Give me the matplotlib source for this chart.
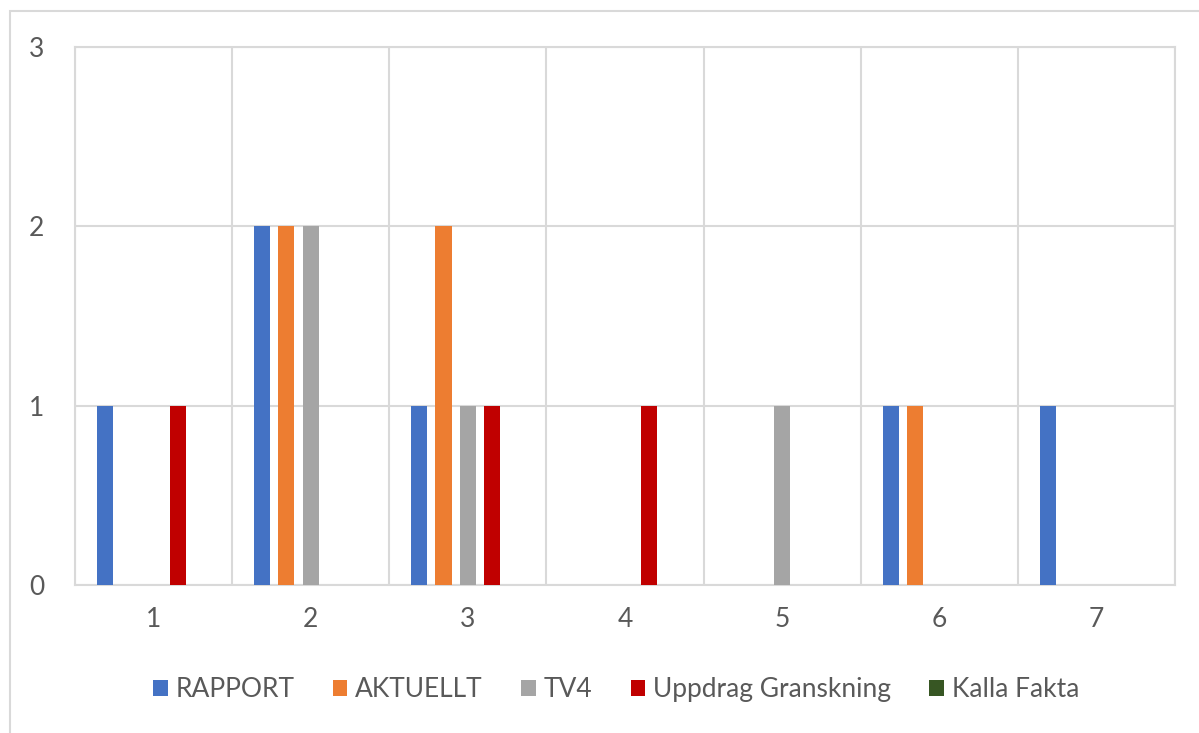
import numpy as np
import matplotlib.pyplot as plt
from matplotlib.patches import Rectangle

categories = ["1", "2", "3", "4", "5", "6", "7"]
series_names = ["RAPPORT", "AKTUELLT", "TV4", "Uppdrag Granskning", "Kalla Fakta"]
rapport = [1, 2, 1, 0, 0, 1, 1]
aktuellt = [0, 2, 2, 0, 0, 1, 0]
tv4 = [0, 2, 1, 0, 1, 0, 0]
uppdrag = [1, 0, 1, 1, 0, 0, 0]
kalla_fakta = [0, 0, 0, 0, 0, 0, 0]
colors = ["#4472C4", "#ED7D31", "#A5A5A5", "#C00000", "#375623"]

plt.rcParams["font.family"] = ["Lato", "DejaVu Sans"]
text_color = "#595959"
grid_color = "#D9D9D9"

fig = plt.figure(figsize=(11.99, 7.33), dpi=100)
fig.patches.append(Rectangle((10 / 1199, -0.1), 1.2, (733 - 11) / 733 + 0.1,
                             transform=fig.transFigure, fill=False,
                             edgecolor=grid_color, linewidth=1.5))

ax = fig.add_axes([75 / 1199, (733 - 585) / 733, 1100 / 1199, 538 / 733])

x = np.arange(len(categories))
pitch = 0.155
width = 0.102
all_series = [rapport, aktuellt, tv4, uppdrag, kalla_fakta]
for i, (name, vals) in enumerate(zip(series_names, all_series)):
    ax.bar(x + (i - 2) * pitch, vals, width, color=colors[i], label=name, zorder=3)

ax.set_xlim(-0.5, len(categories) - 0.5)
ax.set_ylim(0, 3)
ax.set_yticks([0, 1, 2, 3])
ax.set_xticks(x)
ax.set_xticklabels(categories)
ax.set_xticks(np.arange(-0.5, len(categories)), minor=True)
ax.grid(True, which="minor", axis="x", color=grid_color, linewidth=1.5, zorder=0)
ax.grid(True, which="major", axis="y", color=grid_color, linewidth=1.5, zorder=0)
for s in ax.spines.values():
    s.set_color(grid_color)
    s.set_linewidth(1.5)
ax.tick_params(which="both", length=0, colors=text_color, labelsize=19)
ax.tick_params(axis="y", pad=22)
ax.tick_params(axis="x", pad=16)

ax.legend(loc="center", bbox_to_anchor=(0.492, -0.195), ncol=5, frameon=False,
          fontsize=19, labelcolor=text_color, handlelength=0.55, handleheight=0.55,
          handletextpad=0.3, columnspacing=1.45)

fig.savefig("out.png", dpi=100)
